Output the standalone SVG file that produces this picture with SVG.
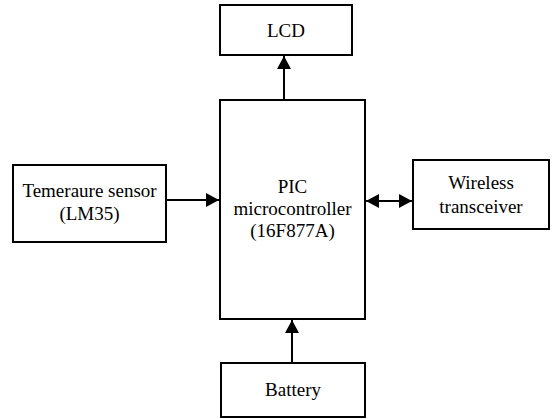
<svg xmlns="http://www.w3.org/2000/svg" width="553" height="419" viewBox="0 0 553 419">
<style>
rect{fill:#fff;stroke:#000;stroke-width:2}
text{font-size:19px;fill:#000;text-anchor:middle}
.c line{stroke:#000;stroke-width:2}
</style>
<defs>
<marker id="a" viewBox="0 0 13 14" refX="13" refY="7" markerWidth="13" markerHeight="14" orient="auto-start-reverse" markerUnits="userSpaceOnUse"><path d="M0,0L13,7L0,14z" fill="#000"/></marker>
</defs>
<rect x="0" y="0" width="553" height="419" style="stroke:none"/>
<g font-family="Liberation Serif, Times New Roman, DejaVu Serif, serif">
<g id="lcd"><rect x="220" y="5" width="132" height="50"/><text x="286" y="37">LCD</text></g>
<g id="pic"><rect x="220" y="100" width="145" height="219"/><text x="292.5" y="193">PIC</text><text x="292.5" y="215">microcontroller</text><text x="292.5" y="237">(16F877A)</text></g>
<g id="sensor"><rect x="13" y="165" width="153" height="77"/><text x="89.5" y="197">Temeraure sensor</text><text x="89.5" y="220">(LM35)</text></g>
<g id="wireless"><rect x="413" y="160" width="136" height="69"/><text x="481" y="189">Wireless</text><text x="481" y="213">transceiver</text></g>
<g id="battery"><rect x="221" y="363" width="144" height="54"/><text x="293" y="396">Battery</text></g>
</g>
<g class="c" id="connectors">
<line x1="284" y1="100" x2="284" y2="56" marker-end="url(#a)"/>
<line x1="166" y1="200" x2="219" y2="200" marker-end="url(#a)"/>
<line x1="366" y1="201" x2="412" y2="201" marker-start="url(#a)" marker-end="url(#a)"/>
<line x1="292" y1="363" x2="292" y2="320" marker-end="url(#a)"/>
</g>
</svg>
